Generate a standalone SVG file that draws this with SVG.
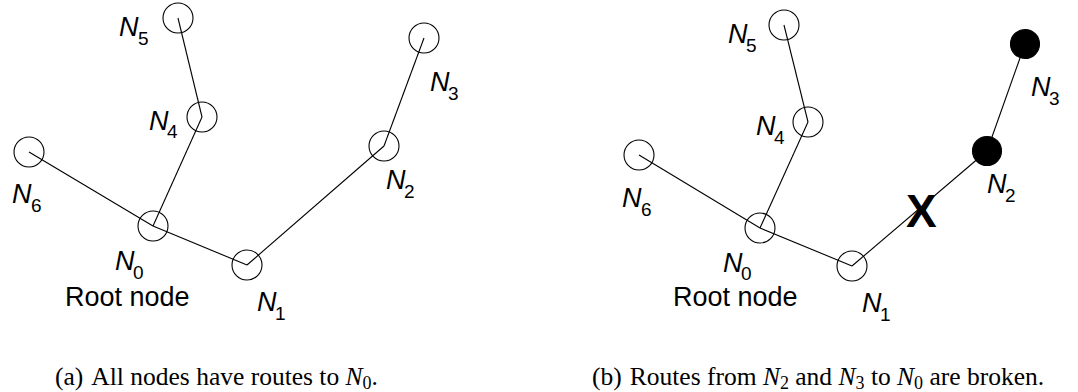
<svg xmlns="http://www.w3.org/2000/svg" width="1078" height="392" viewBox="0 0 1078 392">
  <style>
    .edge { stroke: #000; stroke-width: 1.1; fill: none; }
    .node { stroke: #000; stroke-width: 1.1; fill: none; }
    .dead { stroke: #000; stroke-width: 1.1; fill: #000; }
    .lbl { font-family: "Liberation Sans", Arial, sans-serif; font-size: 27px; fill: #000; }
    .lbl .n { font-style: italic; }
    .lbl .s { font-size: 19px; }
    .cap { font-family: "Liberation Serif", "Times New Roman", serif; font-size: 25.5px; fill: #000; }
    .cap .n { font-style: italic; }
    .cap .s { font-size: 18px; }
  </style>

  <!-- (a) tree with every node routed to the root -->
  <g id="edges-a">
    <line class="edge" x1="178" y1="18" x2="202" y2="117"/>
    <line class="edge" x1="202" y1="117" x2="153" y2="226"/>
    <line class="edge" x1="29" y1="152" x2="153" y2="226"/>
    <line class="edge" x1="153" y1="226" x2="247" y2="265"/>
    <line class="edge" x1="247" y1="265" x2="384" y2="146"/>
    <line class="edge" x1="384" y1="146" x2="424" y2="38"/>
  </g>
  <g id="a-N5"><circle class="node" cx="178" cy="18" r="15"/>
    <text class="lbl" x="119" y="36"><tspan class="n">N</tspan><tspan class="s" x="138" y="45">5</tspan></text></g>
  <g id="a-N4"><circle class="node" cx="202" cy="117" r="15"/>
    <text class="lbl" x="149" y="130"><tspan class="n">N</tspan><tspan class="s" x="167" y="138">4</tspan></text></g>
  <g id="a-N6"><circle class="node" cx="29" cy="152" r="15"/>
    <text class="lbl" x="12" y="203"><tspan class="n">N</tspan><tspan class="s" x="31" y="212">6</tspan></text></g>
  <g id="a-N0"><circle class="node" cx="153" cy="226" r="15"/>
    <text class="lbl" x="115" y="270"><tspan class="n">N</tspan><tspan class="s" x="133" y="279">0</tspan></text>
    <text class="lbl" x="65" y="306">Root node</text></g>
  <g id="a-N1"><circle class="node" cx="247" cy="265" r="15"/>
    <text class="lbl" x="257" y="311"><tspan class="n">N</tspan><tspan class="s" x="275" y="320">1</tspan></text></g>
  <g id="a-N2"><circle class="node" cx="384" cy="146" r="15"/>
    <text class="lbl" x="386" y="189"><tspan class="n">N</tspan><tspan class="s" x="404" y="198">2</tspan></text></g>
  <g id="a-N3"><circle class="node" cx="424" cy="38" r="15"/>
    <text class="lbl" x="430" y="91"><tspan class="n">N</tspan><tspan class="s" x="448" y="100">3</tspan></text></g>

  <!-- (b) same tree, link N1-N2 broken -->
  <g id="edges-b">
    <line class="edge" x1="784" y1="25" x2="808" y2="122"/>
    <line class="edge" x1="808" y1="122" x2="760" y2="228"/>
    <line class="edge" x1="639" y1="155" x2="760" y2="228"/>
    <line class="edge" x1="760" y1="228" x2="852" y2="266"/>
    <line class="edge" x1="852" y1="266" x2="987" y2="151"/>
    <line class="edge" x1="987" y1="151" x2="1025" y2="44"/>
  </g>
  <g id="b-N5"><circle class="node" cx="784" cy="25" r="15"/>
    <text class="lbl" x="728" y="43"><tspan class="n">N</tspan><tspan class="s" x="746" y="52">5</tspan></text></g>
  <g id="b-N4"><circle class="node" cx="808" cy="122" r="15"/>
    <text class="lbl" x="756" y="135"><tspan class="n">N</tspan><tspan class="s" x="774" y="144">4</tspan></text></g>
  <g id="b-N6"><circle class="node" cx="639" cy="155" r="15"/>
    <text class="lbl" x="622" y="207"><tspan class="n">N</tspan><tspan class="s" x="641" y="216">6</tspan></text></g>
  <g id="b-N0"><circle class="node" cx="760" cy="228" r="15"/>
    <text class="lbl" x="723" y="272"><tspan class="n">N</tspan><tspan class="s" x="741" y="280">0</tspan></text>
    <text class="lbl" x="673" y="306">Root node</text></g>
  <g id="b-N1"><circle class="node" cx="852" cy="266" r="15"/>
    <text class="lbl" x="862" y="312"><tspan class="n">N</tspan><tspan class="s" x="880" y="321">1</tspan></text></g>
  <g id="b-N2"><circle class="dead" cx="987" cy="151" r="14.5"/>
    <text class="lbl" x="987" y="193"><tspan class="n">N</tspan><tspan class="s" x="1005" y="202">2</tspan></text></g>
  <g id="b-N3"><circle class="dead" cx="1025" cy="44" r="14.5"/>
    <text class="lbl" x="1031" y="96"><tspan class="n">N</tspan><tspan class="s" x="1049" y="105">3</tspan></text></g>
  <g id="break">
    <text x="906" y="227" font-family="Liberation Sans, Arial, sans-serif" font-size="46" font-weight="bold" fill="#000">X</text>
  </g>

  <!-- captions -->
  <text class="cap" x="55" y="385">(a)<tspan dx="8">All nodes have routes to </tspan><tspan class="n">N</tspan><tspan class="s" dy="4">0</tspan><tspan dy="-4">.</tspan></text>
  <text class="cap" x="592" y="385">(b)<tspan dx="8">Routes from </tspan><tspan class="n">N</tspan><tspan class="s" dy="4">2</tspan><tspan dy="-4"> and </tspan><tspan class="n">N</tspan><tspan class="s" dy="4">3</tspan><tspan dy="-4"> to </tspan><tspan class="n">N</tspan><tspan class="s" dy="4">0</tspan><tspan dy="-4"> are broken.</tspan></text>
</svg>
